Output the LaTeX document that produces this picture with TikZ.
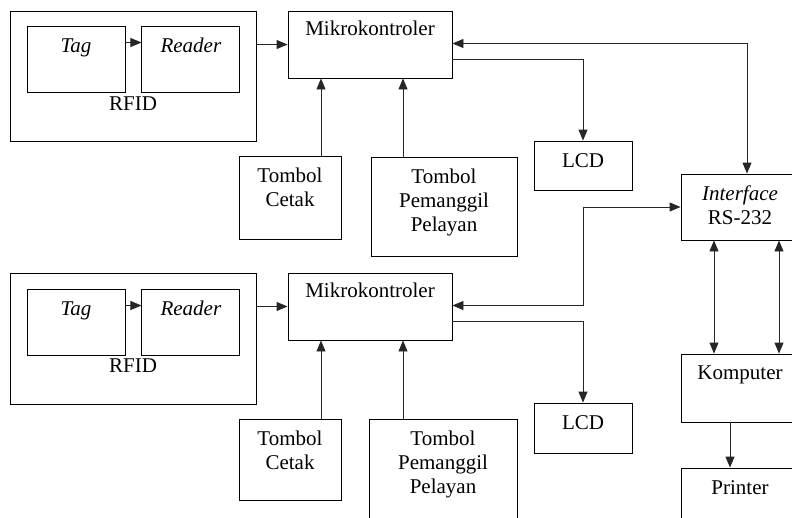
\documentclass[tikz,border=0pt]{standalone}
\usepackage{fontspec}
\setmainfont{Liberation Serif}
\usetikzlibrary{arrows.meta,positioning}

\begin{document}
\begin{tikzpicture}[x=1pt,y=-1pt,>={Triangle[length=11pt,width=9pt]},
  kotak/.style={draw,line width=0.9pt,inner sep=0pt},
  teks/.style={anchor=base,align=center,inner sep=0pt,font=\fontsize{21}{24}\selectfont},
  garis/.style={line width=0.9pt,color=black!85}]
  \useasboundingbox (0,0) rectangle (792,517);

  \node[kotak,minimum width=246pt,minimum height=130pt] (rfid1) at (133,76) {};
  \node[kotak,minimum width=98pt,minimum height=66pt] (tag1) at (76,59) {};
  \node[kotak,minimum width=98pt,minimum height=66pt,right=16pt of tag1] (reader1) {};
  \node[kotak,minimum width=164pt,minimum height=67pt] (mikro1) at (370,44.5) {};
  \node[kotak,minimum width=102pt,minimum height=83pt] (cetak1) at (290,197.5) {};
  \node[kotak,minimum width=146pt,minimum height=99pt] (panggil1) at (444,206.5) {};
  \node[kotak,minimum width=98pt,minimum height=49pt] (lcd1) at (583,165.5) {};

  \node[kotak,minimum width=246pt,minimum height=131pt] (rfid2) at (133,338.5) {};
  \node[kotak,minimum width=98pt,minimum height=66pt] (tag2) at (76,322) {};
  \node[kotak,minimum width=98pt,minimum height=66pt,right=16pt of tag2] (reader2) {};
  \node[kotak,minimum width=164pt,minimum height=67pt] (mikro2) at (370,306.5) {};
  \node[kotak,minimum width=102pt,minimum height=81pt] (cetak2) at (290,459.5) {};
  \node[kotak,minimum width=148pt,minimum height=99pt] (panggil2) at (443,468.5) {};
  \node[kotak,minimum width=98pt,minimum height=50pt] (lcd2) at (583,428) {};

  \node[kotak,minimum width=118pt,minimum height=66pt] (interface) at (740,207) {};
  \node[kotak,minimum width=118pt,minimum height=68pt] (komputer) at (740,388) {};
  \node[kotak,minimum width=118pt,minimum height=66pt] (printer) at (740,501) {};

  \node[teks] (ttag1) at ([yshift=-27pt]tag1.north) {\textit{Tag}};
  \node[teks] (treader1) at ([yshift=-27pt]reader1.north) {\textit{Reader}};
  \node[teks] (trfid1) at (133,110) {RFID};
  \node[teks] (tmikro1) at ([yshift=-25pt]mikro1.north) {Mikrokontroler};
  \node[teks] (tcetak1) at ([yshift=-51pt]cetak1.north) {Tombol\\Cetak};
  \node[teks] (tpanggil1) at ([yshift=-75pt]panggil1.north) {Tombol\\Pemanggil\\Pelayan};
  \node[teks] (tlcd1) at ([yshift=-27pt]lcd1.north) {LCD};
  \node[teks] (ttag2) at ([yshift=-27pt]tag2.north) {\textit{Tag}};
  \node[teks] (treader2) at ([yshift=-27pt]reader2.north) {\textit{Reader}};
  \node[teks] (trfid2) at (133,372) {RFID};
  \node[teks] (tmikro2) at ([yshift=-25pt]mikro2.north) {Mikrokontroler};
  \node[teks] (tcetak2) at ([yshift=-51pt]cetak2.north) {Tombol\\Cetak};
  \node[teks] (tpanggil2) at ([yshift=-75pt]panggil2.north) {Tombol\\Pemanggil\\Pelayan};
  \node[teks] (tlcd2) at ([yshift=-27pt]lcd2.north) {LCD};
  \node[teks] (tinterface) at ([yshift=-51pt]interface.north) {\textit{Interface}\\RS-232};
  \node[teks] (tkomputer) at ([yshift=-26pt]komputer.north) {Komputer};
  \node[teks] (tprinter) at ([yshift=-27pt]printer.north) {Printer};

  \path[garis,->] ([yshift=16.5pt]tag1.east) edge ([yshift=16.5pt]reader1.west)
    (rfid1.east |- mikro1.west) edge (mikro1.west)
    ([xshift=31pt]cetak1.north) edge ([xshift=31pt]cetak1.north |- mikro1.south)
    ([xshift=-41pt]panggil1.north) edge ([xshift=-41pt]panggil1.north |- mikro1.south)
    ([yshift=16.5pt]tag2.east) edge ([yshift=16.5pt]reader2.west)
    (rfid2.east |- mikro2.west) edge (mikro2.west)
    ([xshift=31pt]cetak2.north) edge ([xshift=31pt]cetak2.north |- mikro2.south)
    ([xshift=-40pt]panggil2.north) edge ([xshift=-40pt]panggil2.north |- mikro2.south)
    ([xshift=-10pt]komputer.south) edge ([xshift=-10pt]printer.north);
  \draw[garis,->] ([yshift=-15pt]mikro1.east) -| (lcd1.north);
  \draw[garis,->] ([yshift=-14.5pt]mikro2.east) -| (lcd2.north);
  \draw[garis,<->] ([yshift=1pt]mikro1.east) -| ([xshift=7pt]interface.north);
  \draw[garis,<->] ([yshift=1pt]mikro2.east) -| ([yshift=1pt]lcd2.north |- mikro2.east) |- (interface.west);
  \path[garis,<->] ([xshift=-26pt]interface.south) edge ([xshift=-26pt]komputer.north)
    ([xshift=39pt]interface.south) edge ([xshift=39pt]komputer.north);
\end{tikzpicture}
\end{document}
